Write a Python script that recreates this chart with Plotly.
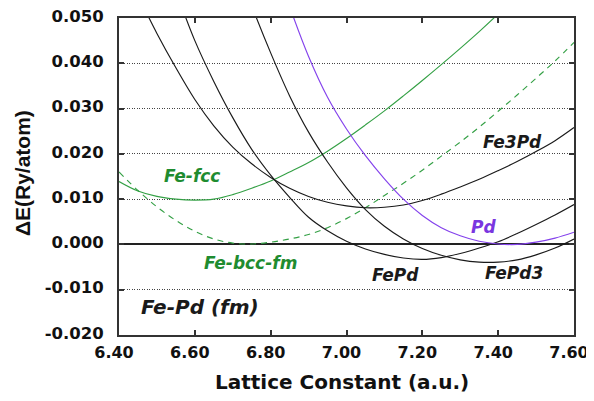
import plotly.graph_objects as go

# ---- data ----
fcc_x = [6.40, 6.45, 6.50, 6.55, 6.60, 6.65, 6.70, 6.75, 6.80, 6.85, 6.90, 6.95,
         7.00, 7.05, 7.10, 7.15, 7.20, 7.25, 7.30, 7.35, 7.40, 7.45]
fcc_y = [0.0139, 0.0118, 0.0106, 0.0100, 0.0098, 0.0100, 0.0110, 0.0124, 0.0140, 0.0160,
         0.0181, 0.0206, 0.0234, 0.0264, 0.0295, 0.0328, 0.0362, 0.0397, 0.0433, 0.0470,
         0.0509, 0.0550]

bcc_x = [6.40, 6.45, 6.50, 6.55, 6.60, 6.65, 6.70, 6.75, 6.80, 6.85, 6.90, 6.95, 7.00,
         7.05, 7.10, 7.15, 7.20, 7.25, 7.30, 7.35, 7.40, 7.45, 7.50, 7.55, 7.60]
bcc_y = [0.0160, 0.0119, 0.0083, 0.0053, 0.0029, 0.0012, 0.0003, 0.0001, 0.0005, 0.0012,
         0.0022, 0.0037, 0.0057, 0.0081, 0.0108, 0.0135, 0.0164, 0.0195, 0.0226, 0.0259,
         0.0294, 0.0330, 0.0367, 0.0405, 0.0446]

fe3pd_x = [6.45, 6.50, 6.55, 6.60, 6.65, 6.70, 6.75, 6.80, 6.85, 6.90, 6.95, 7.00, 7.05,
           7.10, 7.15, 7.20, 7.25, 7.30, 7.35, 7.40, 7.45, 7.50, 7.55, 7.60]
fe3pd_y = [0.0550, 0.0466, 0.0390, 0.0320, 0.0262, 0.0215, 0.0178, 0.0148, 0.0124, 0.0106,
           0.0093, 0.0085, 0.0081, 0.0082, 0.0087, 0.0097, 0.0111, 0.0127, 0.0144, 0.0163,
           0.0183, 0.0205, 0.0229, 0.0258]

fepd_x = [6.55, 6.60, 6.65, 6.70, 6.75, 6.80, 6.85, 6.90, 6.95, 7.00, 7.05, 7.10, 7.15,
          7.20, 7.25, 7.30, 7.35, 7.40, 7.45, 7.50, 7.55, 7.60]
fepd_y = [0.0560, 0.0450, 0.0360, 0.0280, 0.0210, 0.0153, 0.0104, 0.0060, 0.0030, 0.0007,
          -0.0010, -0.0022, -0.0030, -0.0033, -0.0029, -0.0020, -0.0008, 0.0006, 0.0024,
          0.0044, 0.0065, 0.0088]

fepd3_x = [6.70, 6.75, 6.80, 6.85, 6.90, 6.95, 7.00, 7.05, 7.10, 7.15, 7.20, 7.25, 7.30,
           7.35, 7.40, 7.45, 7.50, 7.55, 7.60]
fepd3_y = [0.0640, 0.0527, 0.0423, 0.0328, 0.0248, 0.0182, 0.0125, 0.0077, 0.0040, 0.0012,
           -0.0009, -0.0024, -0.0034, -0.0039, -0.0039, -0.0034, -0.0023, -0.0008, 0.0012]

pd_x = [6.85, 6.90, 6.95, 7.00, 7.05, 7.10, 7.15, 7.20, 7.25, 7.30, 7.35, 7.40, 7.45,
        7.50, 7.55, 7.60]
pd_y = [0.0525, 0.0415, 0.0325, 0.0255, 0.0196, 0.0145, 0.0100, 0.0064, 0.0037, 0.0019,
        0.0007, 0.0001, 0.0000, 0.0005, 0.0014, 0.0027]

x_tick_vals = [6.40, 6.60, 6.80, 7.00, 7.20, 7.40, 7.60]
x_tick_text = ["6.40", "6.60", "6.80", "7.00", "7.20", "7.40", "7.60"]
y_tick_vals = [-0.02, -0.01, 0.00, 0.01, 0.02, 0.03, 0.04, 0.05]
y_tick_text = ["-0.020", "-0.010", "0.000", "0.010", "0.020", "0.030", "0.040", "0.050"]

# curve labels
label_text = ["Fe-fcc", "Fe-bcc-fm", "FePd", "FePd3", "Pd", "Fe3Pd"]
label_x = [6.593, 6.746, 7.128, 7.442, 7.362, 7.437]
label_y = [0.0152, -0.0040, -0.0067, -0.0063, 0.0039, 0.0227]

GREEN = "#34a045"
GREEN_TXT = "#1f8c30"
PURPLE = "#8442ec"
PURPLE_TXT = "#7a36e0"
BLACK = "#1a1a1a"
label_color = [GREEN_TXT, GREEN_TXT, BLACK, BLACK, PURPLE_TXT, BLACK]

fig = go.Figure()

def add_curve(x, y, color, dash="solid", width=1.15):
    fig.add_trace(go.Scatter(x=x, y=y, mode="lines",
                             line=dict(color=color, width=width, dash=dash, shape="spline", smoothing=1.0),
                             showlegend=False, hoverinfo="skip"))

add_curve(fcc_x, fcc_y, GREEN)
add_curve(bcc_x, bcc_y, GREEN, dash="6px,5px")
add_curve(fe3pd_x, fe3pd_y, BLACK)
add_curve(fepd_x, fepd_y, BLACK)
add_curve(fepd3_x, fepd3_y, BLACK)
add_curve(pd_x, pd_y, PURPLE)

LBL_FONT = "DejaVu Sans"
for t, lx, ly, c in zip(label_text, label_x, label_y, label_color):
    fig.add_annotation(x=lx, y=ly, xref="x", yref="y", text=t, showarrow=False,
                       xanchor="center", yanchor="middle",
                       font=dict(family=LBL_FONT, size=17, color=c, weight="bold", style="italic"))

fig.add_annotation(x=6.614, y=-0.0139, xref="x", yref="y", text="Fe-Pd (fm)", showarrow=False,
                   xanchor="center", yanchor="middle",
                   font=dict(family=LBL_FONT, size=20, color=BLACK, weight="bold", style="italic"))

# axis titles
fig.add_annotation(x=0.49, y=-0.148, xref="paper", yref="paper", text="Lattice Constant (a.u.)",
                   showarrow=False, xanchor="center", yanchor="middle",
                   font=dict(family="DejaVu Sans", size=20, color="#111", weight="bold"))
fig.add_annotation(x=-0.213, y=0.511, xref="paper", yref="paper", text="ΔE(Ry/atom)",
                   showarrow=False, xanchor="center", yanchor="middle", textangle=-90,
                   font=dict(family="Liberation Sans", size=21, color="#111", weight="bold"))

Y_TICK_FONT = dict(family="DejaVu Sans", size=16.5, color="#111", weight="bold")
X_TICK_FONT = dict(family="DejaVu Sans", size=16, color="#111", weight="bold")

fig.update_xaxes(range=[6.40, 7.60], tickvals=x_tick_vals, ticktext=x_tick_text,
                 ticks="inside", ticklen=5, tickwidth=1.5, tickcolor="#333",
                 showline=True, linecolor="#333", linewidth=2, mirror="ticks",
                 showgrid=False, zeroline=False, tickfont=X_TICK_FONT, ticklabelstandoff=2,
                 ticklabelshift=-5, ticklabeloverflow="allow", automargin=False)
fig.update_yaxes(range=[-0.02, 0.05], tickvals=y_tick_vals, ticktext=y_tick_text,
                 ticks="inside", ticklen=5, tickwidth=1.5, tickcolor="#333",
                 showline=True, linecolor="#333", linewidth=2, mirror="ticks",
                 showgrid=True, gridcolor="#444", gridwidth=1, griddash="1px,1.5px",
                 zeroline=True, zerolinecolor="#222", zerolinewidth=1.5,
                 tickfont=Y_TICK_FONT, ticklabelstandoff=10, ticklabelshift=-2,
                 ticklabeloverflow="allow", automargin=False)

# the page body adds an 8px margin; the figure is sized and offset for that
fig.update_layout(width=586, height=385, margin=dict(l=111, r=20, t=10, b=58),
                  paper_bgcolor="white", plot_bgcolor="white")

fig.write_html("out.html")
